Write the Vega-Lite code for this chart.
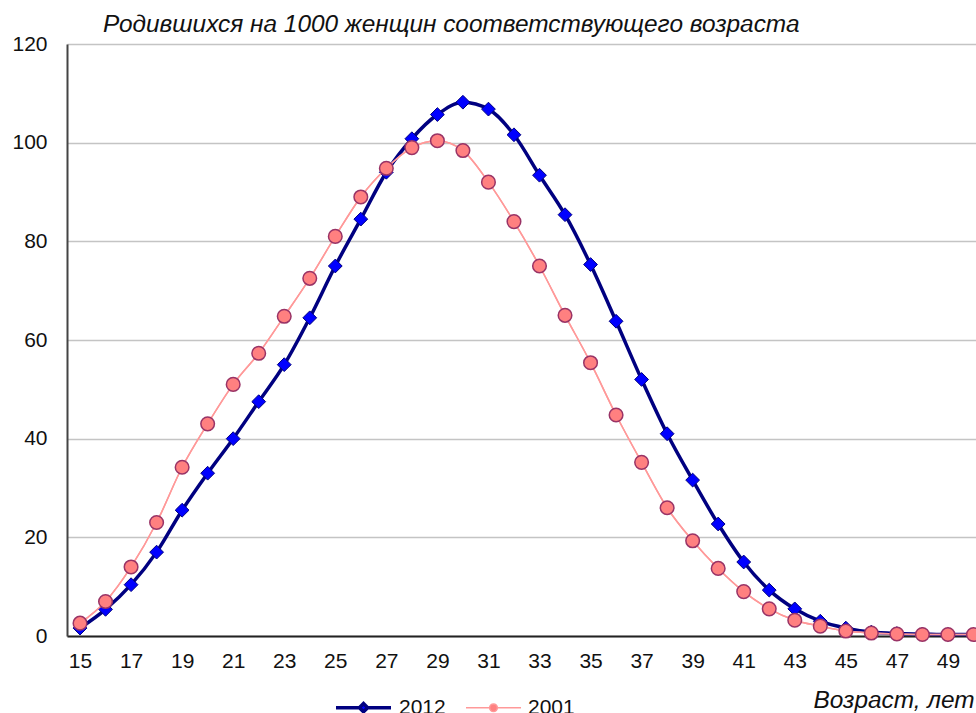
{
  "$schema": "https://vega.github.io/schema/vega-lite/v6.json",
  "autosize": "none",
  "width": 909,
  "height": 592,
  "padding": {"left": 67, "top": 44, "right": 0, "bottom": 77},
  "background": "white",
  "config": {
    "font": "Liberation Sans",
    "view": {"stroke": null}
  },
  "title": {
    "text": "Родившихся на 1000 женщин соответствующего возраста",
    "anchor": "start",
    "frame": "group",
    "dx": 36,
    "dy": 16,
    "offset": 12,
    "font": "Liberation Sans",
    "fontSize": 24.4,
    "fontStyle": "italic",
    "fontWeight": "normal",
    "color": "#111111"
  },
  "data": {
    "values": [
      {"age": 15, "series": "2012", "rate": 1.6}, {"age": 16, "series": "2012", "rate": 5.4}, {"age": 17, "series": "2012", "rate": 10.4},
      {"age": 18, "series": "2012", "rate": 17.0}, {"age": 19, "series": "2012", "rate": 25.5}, {"age": 20, "series": "2012", "rate": 33.0},
      {"age": 21, "series": "2012", "rate": 40.0}, {"age": 22, "series": "2012", "rate": 47.5}, {"age": 23, "series": "2012", "rate": 55.0},
      {"age": 24, "series": "2012", "rate": 64.5}, {"age": 25, "series": "2012", "rate": 75.0}, {"age": 26, "series": "2012", "rate": 84.5},
      {"age": 27, "series": "2012", "rate": 94.0}, {"age": 28, "series": "2012", "rate": 100.8}, {"age": 29, "series": "2012", "rate": 105.7},
      {"age": 30, "series": "2012", "rate": 108.2}, {"age": 31, "series": "2012", "rate": 106.8}, {"age": 32, "series": "2012", "rate": 101.6},
      {"age": 33, "series": "2012", "rate": 93.4}, {"age": 34, "series": "2012", "rate": 85.4}, {"age": 35, "series": "2012", "rate": 75.3},
      {"age": 36, "series": "2012", "rate": 63.8}, {"age": 37, "series": "2012", "rate": 52.0}, {"age": 38, "series": "2012", "rate": 41.0},
      {"age": 39, "series": "2012", "rate": 31.6}, {"age": 40, "series": "2012", "rate": 22.7}, {"age": 41, "series": "2012", "rate": 15.0},
      {"age": 42, "series": "2012", "rate": 9.3}, {"age": 43, "series": "2012", "rate": 5.5}, {"age": 44, "series": "2012", "rate": 3.0},
      {"age": 45, "series": "2012", "rate": 1.6}, {"age": 46, "series": "2012", "rate": 0.8}, {"age": 47, "series": "2012", "rate": 0.5},
      {"age": 48, "series": "2012", "rate": 0.4}, {"age": 49, "series": "2012", "rate": 0.3}, {"age": 50, "series": "2012", "rate": 0.3},
      {"age": 15, "series": "2001", "rate": 2.6}, {"age": 16, "series": "2001", "rate": 7.0}, {"age": 17, "series": "2001", "rate": 14.0},
      {"age": 18, "series": "2001", "rate": 23.0}, {"age": 19, "series": "2001", "rate": 34.2}, {"age": 20, "series": "2001", "rate": 43.0},
      {"age": 21, "series": "2001", "rate": 51.0}, {"age": 22, "series": "2001", "rate": 57.3}, {"age": 23, "series": "2001", "rate": 64.8},
      {"age": 24, "series": "2001", "rate": 72.5}, {"age": 25, "series": "2001", "rate": 81.0}, {"age": 26, "series": "2001", "rate": 89.0},
      {"age": 27, "series": "2001", "rate": 94.8}, {"age": 28, "series": "2001", "rate": 99.0}, {"age": 29, "series": "2001", "rate": 100.4},
      {"age": 30, "series": "2001", "rate": 98.4}, {"age": 31, "series": "2001", "rate": 92.0}, {"age": 32, "series": "2001", "rate": 84.0},
      {"age": 33, "series": "2001", "rate": 75.0}, {"age": 34, "series": "2001", "rate": 65.0}, {"age": 35, "series": "2001", "rate": 55.4},
      {"age": 36, "series": "2001", "rate": 44.8}, {"age": 37, "series": "2001", "rate": 35.2}, {"age": 38, "series": "2001", "rate": 26.0},
      {"age": 39, "series": "2001", "rate": 19.3}, {"age": 40, "series": "2001", "rate": 13.7}, {"age": 41, "series": "2001", "rate": 9.0},
      {"age": 42, "series": "2001", "rate": 5.5}, {"age": 43, "series": "2001", "rate": 3.2}, {"age": 44, "series": "2001", "rate": 2.0},
      {"age": 45, "series": "2001", "rate": 1.0}, {"age": 46, "series": "2001", "rate": 0.6}, {"age": 47, "series": "2001", "rate": 0.4},
      {"age": 48, "series": "2001", "rate": 0.3}, {"age": 49, "series": "2001", "rate": 0.3}, {"age": 50, "series": "2001", "rate": 0.3}
    ]
  },
  "encoding": {
    "x": {
      "field": "age",
      "type": "quantitative",
      "scale": {"domain": [14.49, 50.1], "nice": false, "zero": false},
      "axis": {
        "values": [15, 17, 19, 21, 23, 25, 27, 29, 31, 33, 35, 37, 39, 41, 43, 45, 47, 49],
        "title": "Возраст, лет",
        "titleFont": "Liberation Sans",
        "titleFontSize": 24.4,
        "titleFontStyle": "italic",
        "titleFontWeight": "normal",
        "titleColor": "#111111",
        "titleAlign": "left",
        "titleAnchor": "start",
        "titleBaseline": "middle",
        "titleX": 746,
        "titleY": 64,
        "labelFontSize": 21,
        "labelColor": "#111111",
        "labelPadding": 14,
        "labelFlush": false,
        "labelOverlap": false,
        "ticks": false,
        "grid": false,
        "domainColor": "#222222",
        "domainWidth": 2
      }
    },
    "y": {
      "field": "rate",
      "type": "quantitative",
      "scale": {"domain": [0, 120], "nice": false},
      "axis": {
        "values": [0, 20, 40, 60, 80, 100, 120],
        "title": null,
        "labelFontSize": 21,
        "labelColor": "#111111",
        "labelPadding": 20,
        "ticks": false,
        "grid": true,
        "gridColor": "#c4c4c4",
        "gridWidth": 1.5,
        "domainColor": "#444444",
        "domainWidth": 2
      }
    }
  },
  "layer": [
    {
      "mark": {"type": "line", "interpolate": "monotone"},
      "encoding": {
        "color": {
          "field": "series",
          "type": "nominal",
          "sort": ["2012", "2001"],
          "scale": {"domain": ["2012", "2001"], "range": ["#000080", "#ff9999"]},
          "legend": {
            "title": null,
            "orient": "none",
            "direction": "horizontal",
            "legendX": 267,
            "legendY": 634,
            "symbolSize": 3025,
            "labelFontSize": 21,
            "labelColor": "#111111",
            "labelOffset": 6,
            "columnPadding": 17,
            "encode": {
              "symbols": {
                "update": {
                  "shape": {"signal": "datum.value === '2012' ? 'M-1,0H-0.15M0.15,0H1M0,-0.15L0.15,0L0,0.15L-0.15,0Z' : 'M-1,0H-0.14M0.14,0H1M0.14,0A0.14,0.14 0 1,1 -0.14,0A0.14,0.14 0 1,1 0.14,0Z'"},
                  "fill": {"signal": "datum.value === '2012' ? '#0000ff' : '#ff8080'"},
                  "stroke": {"signal": "datum.value === '2012' ? '#000080' : '#ff9999'"},
                  "strokeWidth": {"signal": "datum.value === '2012' ? 3.5 : 1.5"},
                  "opacity": {"value": 1},
                  "fillOpacity": {"value": 1},
                  "strokeOpacity": {"value": 1}
                }
              }
            }
          }
        },
        "strokeWidth": {
          "field": "series",
          "type": "nominal",
          "scale": {"domain": ["2012", "2001"], "range": [3.5, 1.5]},
          "legend": null
        },
        "order": {"field": "age"}
      }
    },
    {
      "transform": [{"filter": "datum.series === '2012'"}],
      "mark": {"type": "point", "shape": "diamond", "filled": true, "fill": "#0000ff", "stroke": "#000080", "strokeWidth": 1, "size": 190, "opacity": 1}
    },
    {
      "transform": [{"filter": "datum.series === '2001'"}],
      "mark": {"type": "line", "interpolate": "monotone", "color": "#ff9999", "strokeWidth": 1.5}
    },
    {
      "transform": [{"filter": "datum.series === '2001'"}],
      "mark": {"type": "point", "shape": "circle", "filled": true, "fill": "#ff8080", "stroke": "#993366", "strokeWidth": 1.5, "size": 185, "opacity": 1}
    }
  ]
}
